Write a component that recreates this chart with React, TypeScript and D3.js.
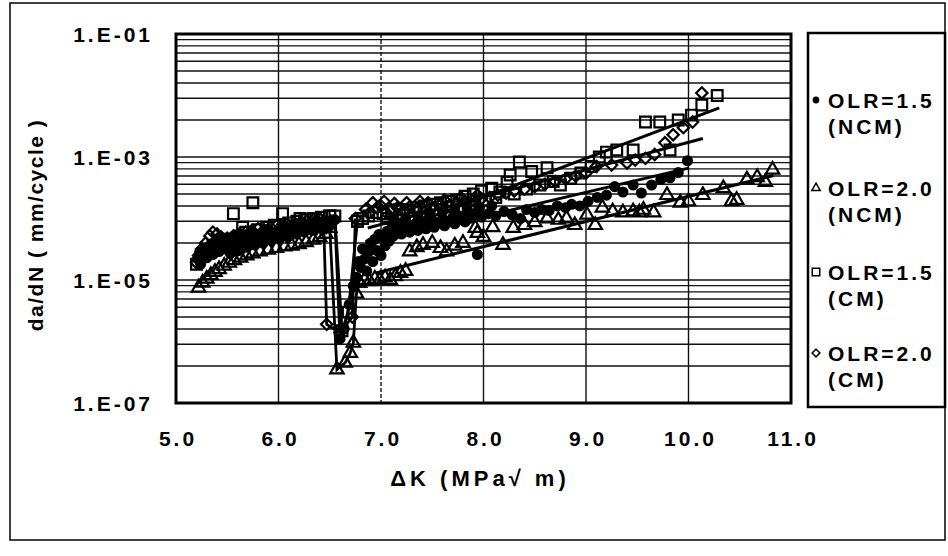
import React from 'react';
import * as d3 from 'd3';

type Pt = [number, number];

// axis ticks
const xTickValues = [5, 6, 7, 8, 9, 10, 11];
const yMajorValues = [1e-7, 1e-5, 1e-3, 1e-1];
const yTickLabels = ['1.E-07', '1.E-05', '1.E-03', '1.E-01'];
const yMinorFactors = [4, 9, 16, 25, 36, 49, 64, 81];

const legendLabels = [
    ['OLR=1.5', '(NCM)'],
    ['OLR=2.0', '(NCM)'],
    ['OLR=1.5', '(CM)'],
    ['OLR=2.0', '(CM)']
];

// OLR=1.5 (NCM) - filled dots
const ncm15: Pt[] = [
    [5.21, 2.2e-5], [5.24, 1.8e-5], [5.27, 2.6e-5], [5.30, 2.3e-5], [5.33, 2.9e-5], [5.36, 2.6e-5],
    [5.39, 3.2e-5], [5.42, 2.9e-5], [5.45, 3.5e-5], [5.48, 3.2e-5], [5.51, 3.9e-5], [5.55, 3.5e-5],
    [5.59, 4.2e-5], [5.63, 3.8e-5], [5.67, 4.6e-5], [5.71, 4.1e-5], [5.75, 4.9e-5], [5.79, 4.5e-5],
    [5.83, 5.4e-5], [5.87, 4.9e-5], [5.91, 5.8e-5], [5.95, 5.3e-5], [5.99, 6.3e-5], [6.03, 5.7e-5],
    [6.07, 6.8e-5], [6.11, 6.1e-5], [6.15, 7.2e-5], [6.19, 6.5e-5], [6.23, 7.6e-5], [6.27, 6.9e-5],
    [6.31, 8.0e-5], [6.35, 7.3e-5], [6.39, 8.5e-5], [6.43, 7.8e-5], [6.47, 9.0e-5], [6.51, 8.4e-5],
    [5.23, 2.8e-5], [5.29, 3.3e-5], [5.35, 3.9e-5], [5.41, 4.3e-5], [5.47, 4.5e-5], [5.53, 2.7e-5],
    [5.61, 3.0e-5], [5.69, 3.4e-5], [5.77, 3.7e-5], [5.85, 4.0e-5], [5.93, 4.4e-5], [6.01, 4.8e-5],
    [6.09, 5.1e-5], [6.17, 5.6e-5], [6.25, 6.0e-5], [6.33, 6.4e-5], [6.41, 6.9e-5], [6.49, 7.4e-5],
    [5.57, 5.3e-5], [5.73, 6.0e-5], [5.89, 6.6e-5], [6.05, 7.7e-5], [6.21, 8.5e-5], [6.37, 9.4e-5],
    [6.76, 1.1e-5], [6.78, 2.0e-5], [6.80, 1.6e-5], [6.82, 3.2e-5], [6.84, 2.2e-5], [6.86, 1.4e-5],
    [6.88, 2.9e-5], [6.90, 4.0e-5], [6.92, 2.0e-5], [6.94, 4.6e-5], [6.96, 3.0e-5], [6.98, 5.5e-5],
    [7.00, 2.5e-5], [7.02, 5.0e-5], [7.04, 3.6e-5], [7.06, 6.2e-5], [7.08, 4.3e-5], [7.10, 6.8e-5],
    [7.14, 6.1e-5], [7.18, 7.3e-5], [7.22, 6.6e-5], [7.26, 7.8e-5], [7.30, 7.0e-5], [7.34, 8.3e-5],
    [7.38, 7.4e-5], [7.42, 8.8e-5], [7.46, 7.9e-5], [7.50, 9.3e-5], [7.55, 8.4e-5], [7.60, 9.8e-5],
    [7.65, 8.9e-5], [7.70, 1.04e-4], [7.75, 9.4e-5], [7.80, 1.1e-4], [7.86, 1.0e-4], [7.92, 1.15e-4],
    [7.12, 5.2e-5], [7.20, 5.6e-5], [7.28, 6.0e-5], [7.36, 6.4e-5], [7.44, 6.8e-5], [7.52, 7.2e-5],
    [7.62, 7.6e-5], [7.72, 8.2e-5], [7.82, 8.8e-5], [7.12, 9.0e-5], [7.24, 1.0e-4], [7.36, 1.1e-4],
    [7.48, 1.2e-4], [7.60, 1.3e-4], [7.72, 1.35e-4], [7.84, 1.45e-4], [7.96, 1.5e-4], [8.08, 1.6e-4],
    [7.94, 2.6e-5], [7.98, 1.05e-4], [8.05, 1.2e-4], [8.12, 1.1e-4], [8.20, 1.3e-4], [8.28, 1.15e-4],
    [8.36, 1.0e-4], [8.42, 1.4e-4], [8.50, 1.25e-4], [8.57, 1.4e-4], [8.64, 1.35e-4], [8.72, 1.6e-4],
    [8.80, 1.5e-4], [8.86, 1.7e-4], [8.94, 1.6e-4], [9.02, 1.9e-4], [9.11, 2.2e-4], [9.20, 2.4e-4],
    [9.28, 3.3e-4], [9.36, 2.7e-4], [9.46, 3.5e-4], [9.54, 2.6e-4], [9.64, 3.5e-4], [9.73, 4.3e-4],
    [9.82, 4.6e-4], [9.90, 5.6e-4], [9.99, 8.7e-4]
];
const ncm15Drop: Pt[] = [[6.51, 8.4e-5], [6.55, 9.5e-5], [6.60, 1.1e-6], [6.64, 1.6e-6], [6.69, 4.0e-6], [6.73, 8.0e-6], [6.76, 1.1e-5]];
const ncm15Trend: Pt[] = [[6.85, 3.8e-5], [10.0, 6.6e-4]];

// OLR=2.0 (NCM) - triangles
const ncm20: Pt[] = [
    [5.22, 7.5e-6], [5.26, 9.0e-6], [5.30, 1.05e-5], [5.34, 1.2e-5], [5.38, 1.35e-5], [5.42, 1.5e-5],
    [5.47, 1.7e-5], [5.52, 1.9e-5], [5.57, 2.1e-5], [5.60, 3.5e-5], [5.63, 2.3e-5], [5.69, 2.5e-5],
    [5.75, 2.7e-5], [5.82, 2.9e-5], [5.85, 4.5e-5], [5.90, 3.1e-5], [5.98, 3.3e-5], [6.06, 3.5e-5],
    [6.10, 6.0e-5], [6.13, 3.6e-5], [6.20, 3.8e-5], [6.27, 4.1e-5], [6.30, 7.0e-5], [6.34, 4.5e-5],
    [6.40, 5.0e-5], [6.46, 5.6e-5],
    [6.79, 9.0e-6], [6.84, 1.0e-5], [6.89, 9.5e-6], [6.94, 1.05e-5], [6.99, 1.0e-5], [7.04, 1.1e-5],
    [7.09, 1.0e-5], [7.14, 1.15e-5], [7.19, 1.3e-5], [7.24, 1.4e-5], [7.28, 2.9e-5], [7.35, 3.4e-5],
    [7.41, 3.7e-5], [7.50, 4.0e-5], [7.58, 3.3e-5], [7.64, 2.9e-5], [7.72, 3.6e-5], [7.80, 4.0e-5],
    [7.92, 7.0e-5], [7.94, 5.8e-5], [8.00, 5.0e-5], [8.09, 7.2e-5], [8.19, 3.7e-5], [8.29, 7.0e-5],
    [8.40, 7.8e-5], [8.50, 8.7e-5], [8.62, 1.0e-4], [8.73, 9.5e-5], [8.81, 1.0e-4], [8.89, 7.8e-5],
    [9.01, 1.15e-4], [9.09, 7.8e-5], [9.16, 1.5e-4], [9.26, 1.3e-4], [9.36, 1.25e-4], [9.46, 1.3e-4],
    [9.52, 1.25e-4], [9.56, 1.38e-4], [9.66, 1.25e-4], [9.79, 2.4e-4], [9.92, 1.8e-4], [10.00, 1.9e-4],
    [10.14, 2.4e-4], [10.34, 3.1e-4], [10.42, 1.9e-4], [10.47, 2.0e-4], [10.57, 4.3e-4], [10.67, 4.7e-4],
    [10.75, 3.9e-4], [10.82, 6.2e-4]
];
const ncm20Drop: Pt[] = [[6.46, 5.6e-5], [6.50, 7.0e-5], [6.57, 3.5e-7], [6.65, 4.5e-7], [6.70, 6.5e-7], [6.73, 9.5e-7], [6.76, 6.0e-6], [6.79, 9.0e-6]];
const ncm20Trend: Pt[] = [[6.95, 1.3e-5], [10.83, 5.0e-4]];

// OLR=1.5 (CM) - squares
const cm15: Pt[] = [
    [5.20, 1.8e-5], [5.25, 2.5e-5], [5.30, 3.0e-5], [5.36, 3.6e-5], [5.42, 4.0e-5], [5.48, 4.6e-5],
    [5.56, 1.2e-4], [5.62, 5.2e-5], [5.65, 7.2e-5], [5.68, 6.0e-5], [5.75, 1.8e-4], [5.80, 6.6e-5],
    [5.88, 7.2e-5], [5.96, 7.8e-5], [6.04, 1.2e-4], [6.10, 8.5e-5], [6.18, 9.0e-5], [6.21, 1.0e-4],
    [6.26, 9.6e-5], [6.34, 1.0e-4], [6.42, 1.05e-4], [6.50, 1.1e-4],
    [6.77, 9.0e-5], [6.82, 1.0e-4], [6.88, 1.1e-4], [6.95, 1.25e-4], [7.02, 1.2e-4], [7.10, 1.3e-4],
    [7.18, 1.4e-4], [7.26, 1.35e-4], [7.34, 1.5e-4], [7.42, 1.6e-4], [7.50, 1.7e-4], [7.58, 1.8e-4],
    [7.66, 1.9e-4], [7.74, 2.0e-4], [7.82, 2.3e-4], [7.90, 2.5e-4], [7.98, 2.8e-4], [8.08, 3.1e-4],
    [7.06, 1.0e-4], [7.22, 1.15e-4], [7.38, 1.25e-4], [7.54, 1.4e-4], [7.70, 1.55e-4], [7.86, 1.7e-4],
    [8.02, 2.0e-4], [8.12, 2.2e-4], [8.30, 2.5e-4], [8.42, 3.0e-4], [8.55, 3.5e-4], [8.68, 4.0e-4],
    [8.16, 2.7e-4], [8.23, 3.9e-4], [8.26, 5.1e-4], [8.35, 8.3e-4], [8.47, 5.8e-4], [8.62, 6.7e-4],
    [8.75, 3.5e-4], [8.85, 4.5e-4], [8.95, 5.5e-4], [9.05, 7.0e-4], [9.13, 1.0e-3], [9.20, 1.2e-3],
    [9.30, 1.3e-3], [9.46, 1.3e-3], [9.58, 3.7e-3], [9.72, 3.7e-3], [9.82, 1.3e-3], [9.90, 4.0e-3],
    [10.03, 4.8e-3], [10.13, 7.0e-3], [10.28, 1.0e-2]
];
const cm15Drop: Pt[] = [[6.50, 1.1e-4], [6.55, 1.1e-4], [6.62, 1.5e-6], [6.68, 3.0e-6], [6.77, 9.0e-5]];
const cm15Trend: Pt[] = [[6.85, 4.2e-5], [10.3, 6.3e-3]];

// OLR=2.0 (CM) - diamonds
const cm20: Pt[] = [
    [5.20, 1.9e-5], [5.22, 2.5e-5], [5.25, 3.2e-5], [5.29, 4.0e-5], [5.33, 5.2e-5], [5.36, 6.0e-5],
    [5.40, 5.6e-5], [5.44, 5.0e-5], [5.50, 4.8e-5], [5.56, 5.2e-5], [5.62, 5.6e-5], [5.68, 6.0e-5],
    [5.74, 6.4e-5], [5.80, 6.8e-5], [5.86, 6.5e-5], [5.92, 7.2e-5], [5.98, 7.6e-5], [6.04, 8.0e-5],
    [6.10, 7.7e-5], [6.16, 8.4e-5], [6.22, 8.8e-5], [6.28, 9.2e-5], [6.34, 9.6e-5], [6.40, 1.0e-4],
    [6.85, 1.4e-4], [6.88, 1.2e-4], [6.92, 1.8e-4], [6.96, 1.5e-4], [7.00, 1.6e-4], [7.05, 1.25e-4],
    [7.10, 1.4e-4], [7.16, 1.5e-4], [7.22, 1.35e-4], [7.28, 1.55e-4], [7.35, 1.45e-4], [7.42, 1.6e-4],
    [7.03, 1.9e-4], [7.13, 1.75e-4], [7.25, 1.8e-4], [7.38, 1.9e-4], [7.46, 1.8e-4], [7.62, 2.0e-4],
    [7.78, 2.2e-4], [7.94, 2.4e-4],
    [7.50, 1.5e-4], [7.58, 1.7e-4], [7.66, 1.6e-4], [7.74, 1.8e-4], [7.82, 1.9e-4], [7.90, 2.0e-4],
    [7.98, 2.1e-4], [8.06, 2.2e-4], [8.14, 2.4e-4], [8.22, 2.6e-4], [8.30, 2.8e-4], [8.40, 3.0e-4],
    [8.50, 3.3e-4], [8.60, 3.6e-4], [8.70, 4.0e-4], [8.80, 4.4e-4], [8.90, 4.9e-4], [9.00, 5.5e-4],
    [9.10, 7.0e-4], [9.25, 7.4e-4], [9.40, 8.0e-4], [9.48, 8.9e-4], [9.58, 9.5e-4], [9.67, 1.1e-3],
    [9.77, 1.7e-3], [9.85, 2.3e-3], [9.95, 3.0e-3], [10.04, 3.7e-3], [10.13, 1.1e-2]
];
const cm20Drop: Pt[] = [[6.40, 1.0e-4], [6.44, 9.0e-5], [6.47, 1.9e-6], [6.60, 1.4e-6], [6.72, 2.5e-6], [6.75, 1.0e-4]];
const cm20Trend: Pt[] = [[6.87, 7.0e-5], [10.14, 2.0e-3]];

const FONT = '"Liberation Sans", Arial, sans-serif';

export default function App()
{
    const x = d3.scaleLinear().domain([5, 11]).range([176, 791]);
    const y = d3.scaleLog().domain([1e-7, 1e-1]).range([403, 34]);
    const line = d3.line<Pt>().x(d => x(d[0])).y(d => y(d[1]));

    const minorValues = yMajorValues.slice(0, -1).flatMap(m => yMinorFactors.map(f => m * f));

    const circle = d3.symbol().type(d3.symbolCircle).size(62)() as string;
    const triangle = d3.symbol().type(d3.symbolTriangle).size(78)() as string;
    const square = d3.symbol().type(d3.symbolSquare).size(115)() as string;
    const diamond = d3.symbol().type(d3.symbolSquare).size(64)() as string;

    const series = [
        {data: ncm15, drop: ncm15Drop, trend: ncm15Trend, path: circle, filled: true, rot: 0},
        {data: ncm20, drop: ncm20Drop, trend: ncm20Trend, path: triangle, filled: false, rot: 0},
        {data: cm15, drop: cm15Drop, trend: cm15Trend, path: square, filled: false, rot: 0},
        {data: cm20, drop: cm20Drop, trend: cm20Trend, path: diamond, filled: false, rot: 45}
    ];

    const legendSym = [
        d3.symbol().type(d3.symbolCircle).size(22)() as string,
        d3.symbol().type(d3.symbolTriangle).size(30)() as string,
        d3.symbol().type(d3.symbolSquare).size(56)() as string,
        d3.symbol().type(d3.symbolSquare).size(30)() as string
    ];
    const legendY = [100, 188, 272, 353];

    return (
        <svg width={948} height={556} style={{position: 'absolute', left: 0, top: 0, background: '#fff'}}>
            <rect x={10} y={3} width={935} height={537} fill="none" stroke="#000" strokeWidth={1.5}/>

            {/* gridlines */}
            <g stroke="#111" strokeWidth={1.4}>
                {minorValues.map((v, i) => (
                    <line key={'m' + i} x1={x(5)} x2={x(11)} y1={y(v)} y2={y(v)}/>
                ))}
                {yMajorValues.map((v, i) => (
                    <line key={'M' + i} x1={x(5)} x2={x(11)} y1={y(v)} y2={y(v)} strokeWidth={1.6}/>
                ))}
                {xTickValues.slice(1, -1).map((v, i) => (
                    <line key={'v' + i} x1={x(v)} x2={x(v)} y1={y(1e-1)} y2={y(1e-7)}
                          strokeDasharray={v === 7 ? '4,2' : undefined}/>
                ))}
            </g>

            {/* markers */}
            {series.map((s, si) => (
                <g key={'s' + si} fill={s.filled ? '#000' : 'none'} stroke="#000" strokeWidth={2.2}>
                    {s.data.concat(s.drop).map((d, i) => (
                        <path key={i} d={s.path}
                              transform={`translate(${x(d[0])},${y(d[1])}) rotate(${s.rot})`}/>
                    ))}
                </g>
            ))}

            {/* overload transients and trendlines */}
            <g fill="none" stroke="#000" strokeWidth={2.8}>
                {series.map((s, si) => <path key={'d' + si} d={line(s.drop) as string}/>)}
                {series.map((s, si) => <path key={'t' + si} d={line(s.trend) as string} strokeWidth={3}/>)}
            </g>

            <rect x={x(5)} y={y(1e-1)} width={x(11) - x(5)} height={y(1e-7) - y(1e-1)}
                  fill="none" stroke="#000" strokeWidth={3}/>

            {/* axis labels */}
            <g fontFamily={FONT} fontWeight="bold" fontSize={21} letterSpacing={3} fill="#000">
                {yMajorValues.map((v, i) => (
                    <text key={'yl' + i} x={153} y={y(v) + 8} textAnchor="end">{yTickLabels[i]}</text>
                ))}
                {xTickValues.map((v, i) => (
                    <text key={'xl' + i} x={x(v) + 2} y={446} textAnchor="middle">{v.toFixed(1)}</text>
                ))}
                <text x={480} y={486} textAnchor="middle" fontSize={22} letterSpacing={4}>{'\u0394K (MPa\u221A m)'}</text>
            </g>
            <text transform="translate(43,225) rotate(-90)" textAnchor="middle" fontFamily={FONT}
                  fontWeight="bold" fontSize={21} letterSpacing={1.5}>da/dN ( mm/cycle )</text>

            {/* legend */}
            <rect x={808} y={33} width={137} height={374} fill="#fff" stroke="#000" strokeWidth={2.5}/>
            {legendLabels.map((lab, i) => (
                <g key={'lg' + i}>
                    <path d={legendSym[i]} fill={i === 0 ? '#000' : 'none'} stroke="#000" strokeWidth={1.5}
                          transform={`translate(816,${legendY[i]}) rotate(${i === 3 ? 45 : 0})`}/>
                    <g fontFamily={FONT} fontWeight="bold" fontSize={21} letterSpacing={3}>
                        <text x={828} y={legendY[i] + 8}>{lab[0]}</text>
                        <text x={828} y={legendY[i] + 34}>{lab[1]}</text>
                    </g>
                </g>
            ))}
        </svg>
    );
}
